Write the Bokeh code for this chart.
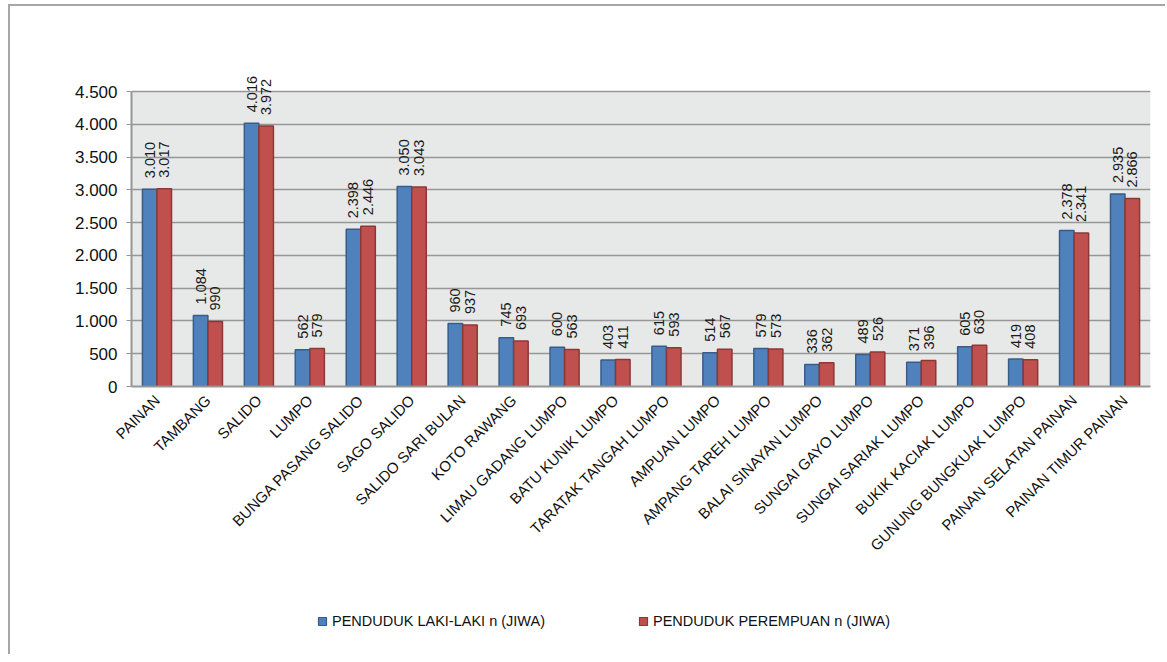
from bokeh.plotting import figure
from bokeh.layouts import column
from bokeh.models import (ColumnDataSource, FactorRange, Range1d, FixedTicker, Legend,
                          LegendItem, BoxAnnotation)
from bokeh.transform import dodge
from bokeh.core.properties import value
from bokeh.embed import file_html
from bokeh.resources import INLINE
import math

categories = ["PAINAN", "TAMBANG", "SALIDO", "LUMPO", "BUNGA PASANG SALIDO", "SAGO SALIDO",
              "SALIDO SARI BULAN", "KOTO RAWANG", "LIMAU GADANG LUMPO", "BATU KUNIK LUMPO",
              "TARATAK TANGAH LUMPO", "AMPUAN LUMPO", "AMPANG TAREH LUMPO", "BALAI SINAYAN LUMPO",
              "SUNGAI GAYO LUMPO", "SUNGAI SARIAK LUMPO", "BUKIK KACIAK LUMPO",
              "GUNUNG BUNGKUAK LUMPO", "PAINAN SELATAN PAINAN", "PAINAN TIMUR PAINAN"]
laki = [3010, 1084, 4016, 562, 2398, 3050, 960, 745, 600, 403, 615, 514, 579, 336, 489, 371, 605, 419, 2378, 2935]
perempuan = [3017, 990, 3972, 579, 2446, 3043, 937, 693, 563, 411, 593, 567, 573, 362, 526, 396, 630, 408, 2341, 2866]
y_ticks = [0, 500, 1000, 1500, 2000, 2500, 3000, 3500, 4000, 4500]
y_max = 4500
series_names = ["PENDUDUK LAKI-LAKI n (JIWA)", "PENDUDUK PEREMPUAN n (JIWA)"]

BLUE, BLUE_EDGE = "#4f81bd", "#385d8a"
RED, RED_EDGE = "#c0504d", "#8c3836"

def fmt(v):
    return f"{v:,}".replace(",", ".")

src = ColumnDataSource(dict(
    cat=categories, laki=laki, perempuan=perempuan,
    laki_lbl=[fmt(v) for v in laki], per_lbl=[fmt(v) for v in perempuan],
))

FONT = "Liberation Sans"
BORDER = "2px solid #a6a6a6"

AREA_H = 295          # pixel height of the 0..4500 region
HEADROOM = 31         # pixel room above 4500 for the data labels
y_top = y_max * (AREA_H + HEADROOM) / AREA_H

p = figure(x_range=FactorRange(*categories, range_padding=0), y_range=Range1d(0, y_top),
           width=1157, height=594, output_backend="svg", toolbar_location=None,
           min_border_left=121, min_border_right=17, min_border_top=54,
           min_border_bottom=214,
           background_fill_color="white", border_fill_color="white",
           styles={"border-left": BORDER, "border-top": BORDER})
p.outline_line_color = None

p.add_layout(BoxAnnotation(bottom=0, top=y_max, fill_color="#e7e8e8", fill_alpha=1,
                           line_color=None, level="image"))

bw = 0.285
p.vbar(x=dodge("cat", -0.143, range=p.x_range), top="laki", width=bw, source=src,
       fill_color=BLUE, line_color=BLUE_EDGE, line_width=1.5)
p.vbar(x=dodge("cat", 0.143, range=p.x_range), top="perempuan", width=bw, source=src,
       fill_color=RED, line_color=RED_EDGE, line_width=1.5)

p.text(x=dodge("cat", -0.143, range=p.x_range), y="laki", text="laki_lbl", source=src,
       angle=math.pi / 2, text_align="left", text_baseline="middle", y_offset=-11,
       text_font=value(FONT), text_font_size="14.5px", text_color="#1a1a1a")
p.text(x=dodge("cat", 0.143, range=p.x_range), y="perempuan", text="per_lbl", source=src,
       angle=math.pi / 2, text_align="left", text_baseline="middle", y_offset=-11,
       text_font=value(FONT), text_font_size="14.5px", text_color="#1a1a1a")

p.xgrid.grid_line_color = None
p.ygrid.grid_line_color = "#969696"
p.ygrid.grid_line_width = 1.5
p.ygrid.ticker = FixedTicker(ticks=y_ticks)

p.yaxis.ticker = FixedTicker(ticks=y_ticks)
p.yaxis.bounds = (0, y_max)
p.yaxis.major_label_overrides = {t: fmt(t) for t in y_ticks}
p.yaxis.major_label_text_font = FONT
p.yaxis.major_label_text_font_size = "17px"
p.yaxis.major_label_text_color = "#111111"
p.yaxis.axis_line_color = "#969696"
p.yaxis.axis_line_width = 2
p.yaxis.major_tick_line_color = "#969696"
p.yaxis.major_tick_out = 5
p.yaxis.major_tick_in = 0
p.yaxis.minor_tick_line_color = None
p.yaxis.major_label_standoff = 9

p.xaxis.major_label_orientation = math.pi / 4
p.xaxis.major_label_text_font = FONT
p.xaxis.major_label_text_font_size = "15px"
p.xaxis.major_label_text_color = "#111111"
p.xaxis.axis_line_color = "#969696"
p.xaxis.axis_line_width = 2
p.xaxis.major_tick_line_color = None
p.xaxis.major_tick_out = 0
p.xaxis.major_tick_in = 0
p.xaxis.major_label_standoff = 11

# legend strip below the chart (frames of the column are aligned with the chart's frame)
lg = figure(width=1157, height=56, output_backend="svg", toolbar_location=None,
            x_range=Range1d(0, 1), y_range=Range1d(0, 1),
            min_border=0, background_fill_color="white", border_fill_color="white",
            styles={"border-left": BORDER})
lg.outline_line_color = None
lg.axis.visible = False
lg.grid.visible = False
proxy = ColumnDataSource(dict(x=[-1], y=[0]))   # legend proxies, outside the visible range
k1 = lg.scatter(x="x", y="y", marker="square", size=8, source=proxy,
                fill_color=BLUE, line_color=BLUE_EDGE, line_width=1.2)
k2 = lg.scatter(x="x", y="y", marker="square", size=8, source=proxy,
                fill_color=RED, line_color=RED_EDGE, line_width=1.2)
legend = Legend(items=[LegendItem(label=series_names[0], renderers=[k1]),
                       LegendItem(label=series_names[1], renderers=[k2])],
                orientation="horizontal", location=(181, 23),
                glyph_width=20, glyph_height=20, label_standoff=0, spacing=88,
                padding=0, margin=0, border_line_color=None, background_fill_alpha=0,
                label_text_font=FONT, label_text_font_size="14.5px", label_text_color="#111111")
lg.add_layout(legend, "center")

layout = column(p, lg, spacing=0, styles={"margin-left": "8px", "margin-top": "4px"})

open("out.html", "w").write(file_html(layout, INLINE))
